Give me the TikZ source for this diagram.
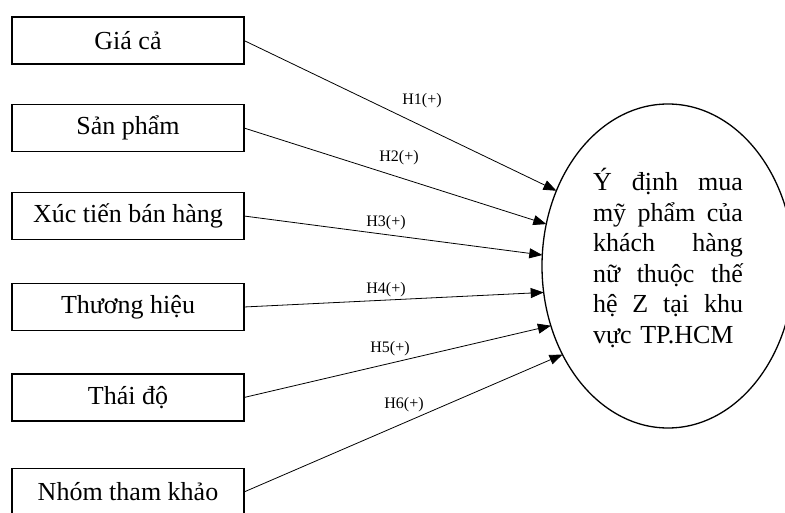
\documentclass[tikz,border=0pt]{standalone}
\usepackage{fontspec}
\setmainfont{Liberation Serif}
\usetikzlibrary{shapes.geometric,arrows.meta}

\newcommand{\jline}[3]{\hbox to 150pt{#1\hfill #2\hfill #3}}

\tikzset{
  factor/.style={draw, line width=1.4pt, minimum width=232pt, minimum height=47pt,
    inner sep=0pt, outer sep=0pt, font=\fontsize{26}{30}\selectfont},
  outcome/.style={draw, ellipse, line width=1.3pt, minimum width=252pt,
    minimum height=324pt, inner sep=0pt, outer sep=0pt},
  hyp/.style={-{Triangle[length=13pt,width=10pt]}, line width=0.8pt},
  hlabel/.style={inner sep=0pt, font=\fontsize{16}{18}\selectfont}
}

\begin{document}
\begin{tikzpicture}[x=1pt, y=-1pt]
  \clip (0,0) rectangle (785,513);
  \fill[white] (0,0) rectangle (785,513);

  % independent factors
  \node[factor] (b1) at (128,40.5) {Giá cả};
  \node[factor] (b2) at (128,128) {Sản phẩm};
  \node[factor] (b3) at (128,216) {Xúc tiến bán hàng};
  \node[factor] (b4) at (128,307) {Thương hiệu};
  \node[factor] (b5) at (128,397.5) {Thái độ};
  \node[factor] (b6) at (128,492) {Nhóm tham khảo};

  % dependent construct, justified text inside
  \node[outcome] (ell) at (668,266) {};
  \node[inner sep=0pt, text width=150pt, align=left,
        font=\fontsize{26}{30.6}\selectfont] (etext) at (668,258)
    {\jline{Ý}{định}{mua}
     \jline{mỹ}{phẩm}{của}
     \hbox to 150pt{khách\hfill hàng}
     \jline{nữ}{thuộc}{thế}
     \hbox to 150pt{hệ\hfill Z\hfill tại\hfill khu}
     \hbox to 150pt{vực TP.HCM\hfill}};

  % hypothesised paths
  \draw[hyp] (b1.east) -- (ell.146.8);
  \draw[hyp] (b2.east) -- (ell.161);
  \draw[hyp] (b3.east) -- (ell.175);
  \draw[hyp] (b4.east) -- (ell.192);
  \draw[hyp] (b5.east) -- (ell.207);
  \draw[hyp] (b6.east) -- (ell.220);

  % path labels
  \node[hlabel] (h1) at (422,101) {H1(+)};
  \node[hlabel] (h2) at (399,158) {H2(+)};
  \node[hlabel] (h3) at (386,223) {H3(+)};
  \node[hlabel] (h4) at (386,290) {H4(+)};
  \node[hlabel] (h5) at (390,349) {H5(+)};
  \node[hlabel] (h6) at (404,405) {H6(+)};
\end{tikzpicture}
\end{document}
